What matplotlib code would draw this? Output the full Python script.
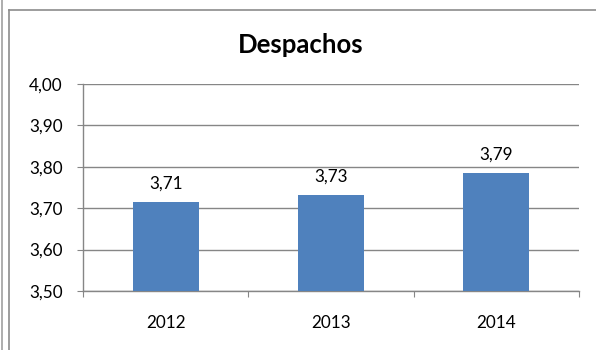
import numpy as np
from matplotlib import pyplot as plt
from matplotlib.lines import Line2D

plt.rcParams['font.family'] = ['Lato', 'DejaVu Sans']

# data
years = ['2012', '2013', '2014']
values = [3.714, 3.732, 3.785]
labels = ['3,71', '3,73', '3,79']
yticks = [3.50, 3.60, 3.70, 3.80, 3.90, 4.00]

W, H = 596, 350
fig = plt.figure(figsize=(W/100, H/100), dpi=100)

# plot area in pixels
left, right, top, bot = 83, 579, 84, 291
ax = fig.add_axes([left/W, 1-bot/H, (right-left)/W, (bot-top)/H])

grid_c = '#868686'
fs = 12.3
x = np.arange(len(years))
ax.bar(x, values, width=0.4, color='#4F81BD', zorder=3)

ax.set_xlim(-0.5, 2.5)
ax.set_ylim(3.5, 4.0)
ax.set_yticks(yticks)
ax.set_yticklabels([('%.2f' % v).replace('.', ',') for v in yticks], fontsize=fs)
ax.yaxis.grid(True, color=grid_c, linewidth=1, zorder=0)
ax.set_axisbelow(True)

# category ticks between bars, labels centred under bars
ax.set_xticks(np.arange(-0.5, 3, 1))
ax.set_xticklabels([])
ax.set_xticks(x, minor=True)
ax.set_xticklabels(years, minor=True, fontsize=fs)
ax.tick_params(axis='x', which='major', length=4.3, color=grid_c, direction='out')
ax.tick_params(axis='x', which='minor', length=0, pad=17)
ax.tick_params(axis='y', length=4.3, color=grid_c, pad=10.5)

for s in ['top', 'right']:
    ax.spines[s].set_visible(False)
for s in ['left', 'bottom']:
    ax.spines[s].set_color(grid_c)
    ax.spines[s].set_linewidth(1)

for xi, v, lab in zip(x, values, labels):
    ax.annotate(lab, (xi, v), xytext=(0, 7.5), textcoords='offset points',
                ha='center', va='bottom', fontsize=fs)

fig.text(0.505, 1-45/H, 'Despachos', ha='center', va='center',
         fontsize=18.5, fontweight='bold')

# chart frame lines
fig.add_artist(Line2D([1.5/W, 1.5/W], [0, 1], color='#a0a0a0', lw=1.2))
fig.add_artist(Line2D([9/W, 9/W], [0, 1-9.5/H], color='#8c8c8c', lw=1.2))
fig.add_artist(Line2D([9/W, 1], [1-9.5/H, 1-9.5/H], color='#8c8c8c', lw=1.2))

fig.savefig('out.png', dpi=100)
